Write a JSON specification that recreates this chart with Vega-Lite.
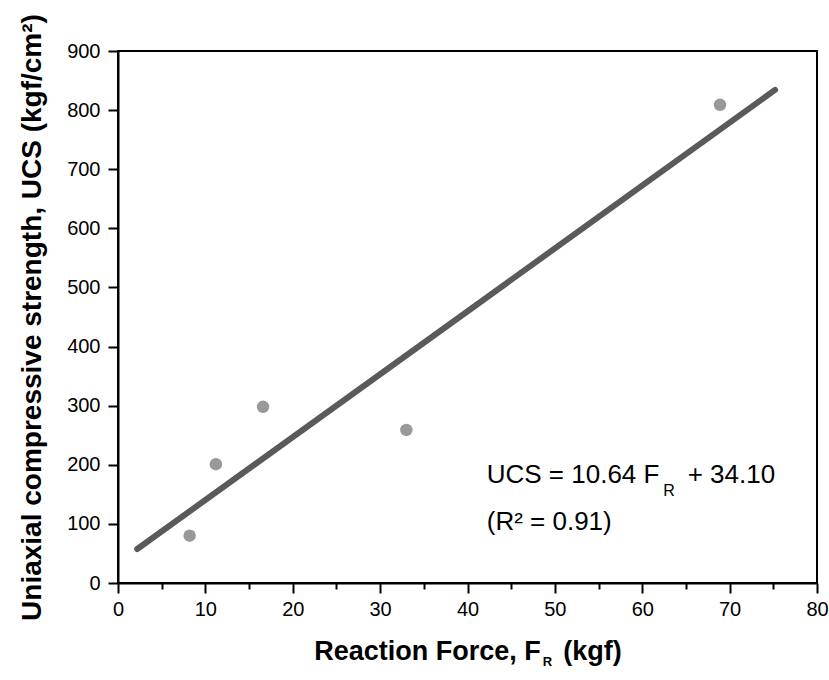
{
  "$schema": "https://vega.github.io/schema/vega-lite/v6.json",
  "width": 699,
  "height": 532,
  "autosize": {"type": "none"},
  "padding": {"left": 118, "top": 51, "right": 12, "bottom": 97},
  "background": "white",
  "config": {
    "view": {"stroke": "black", "strokeWidth": 2},
    "font": "Liberation Sans",
    "axis": {
      "domainColor": "black",
      "domainWidth": 2,
      "tickColor": "black",
      "tickWidth": 2,
      "grid": false,
      "labelFont": "Liberation Sans",
      "labelFontSize": 20,
      "labelColor": "black",
      "titleFont": "Liberation Sans",
      "titleFontWeight": "bold",
      "titleColor": "black"
    }
  },
  "datasets": {
    "points": [
      {"F": 8.2, "UCS": 80},
      {"F": 11.2, "UCS": 201},
      {"F": 16.6, "UCS": 298},
      {"F": 33.0, "UCS": 259},
      {"F": 68.9, "UCS": 809}
    ],
    "fit": [
      {"F": 2.2, "UCS": 57.5},
      {"F": 75.2, "UCS": 834.2}
    ],
    "one": [{}]
  },
  "layer": [
    {
      "data": {"name": "fit"},
      "mark": {"type": "line", "color": "#5a5a5a", "strokeWidth": 6, "strokeCap": "round"},
      "encoding": {
        "x": {
          "field": "F", "type": "quantitative",
          "scale": {"domain": [0, 80], "nice": false, "zero": false},
          "axis": {
            "title": "Reaction Force, F\u00a0\u00a0\u00a0(kgf)",
            "titleFontSize": 27,
            "values": [0, 5, 10, 15, 20, 25, 30, 35, 40, 45, 50, 55, 60, 65, 70, 75, 80],
            "labelExpr": "datum.value % 10 === 0 ? datum.label : ''",
            "tickSize": {"condition": {"test": "datum.value % 10 === 0", "value": 10}, "value": 6},
            "labelPadding": 6,
            "titlePadding": 19,
            "labelFlush": false
          }
        },
        "y": {
          "field": "UCS", "type": "quantitative",
          "scale": {"domain": [0, 900], "nice": false, "zero": false},
          "axis": {
            "title": "Uniaxial compressive strength, UCS (kgf/cm²)",
            "titleFontSize": 28,
            "values": [0, 50, 100, 150, 200, 250, 300, 350, 400, 450, 500, 550, 600, 650, 700, 750, 800, 850, 900],
            "labelExpr": "datum.value % 100 === 0 ? datum.label : ''",
            "tickSize": {"condition": {"test": "datum.value % 100 === 0", "value": 10}, "value": 6},
            "labelPadding": 8,
            "titlePadding": 20,
            "labelFlush": false
          }
        }
      }
    },
    {
      "data": {"name": "points"},
      "mark": {"type": "circle", "color": "#999999", "size": 155, "opacity": 1},
      "encoding": {
        "x": {"field": "F", "type": "quantitative"},
        "y": {"field": "UCS", "type": "quantitative"}
      }
    },
    {
      "data": {"name": "one"},
      "mark": {"type": "text", "text": "UCS = 10.64 F", "align": "left", "baseline": "alphabetic", "fontSize": 26, "color": "black"},
      "encoding": {"x": {"datum": 42.2}, "y": {"datum": 169}}
    },
    {
      "data": {"name": "one"},
      "mark": {"type": "text", "text": "R", "align": "left", "baseline": "alphabetic", "fontSize": 16, "color": "black"},
      "encoding": {"x": {"datum": 62.4}, "y": {"datum": 148}}
    },
    {
      "data": {"name": "one"},
      "mark": {"type": "text", "text": "+ 34.10", "align": "left", "baseline": "alphabetic", "fontSize": 26, "color": "black"},
      "encoding": {"x": {"datum": 65.2}, "y": {"datum": 169}}
    },
    {
      "data": {"name": "one"},
      "mark": {"type": "text", "text": "(R² = 0.91)", "align": "left", "baseline": "alphabetic", "fontSize": 26, "color": "black"},
      "encoding": {"x": {"datum": 42.2}, "y": {"datum": 89}}
    },
    {
      "data": {"name": "one"},
      "mark": {"type": "text", "text": "R", "align": "left", "baseline": "alphabetic", "fontSize": 13, "fontWeight": "bold", "color": "black", "clip": false},
      "encoding": {"x": {"datum": 48.6}, "y": {"datum": -141}}
    }
  ]
}
